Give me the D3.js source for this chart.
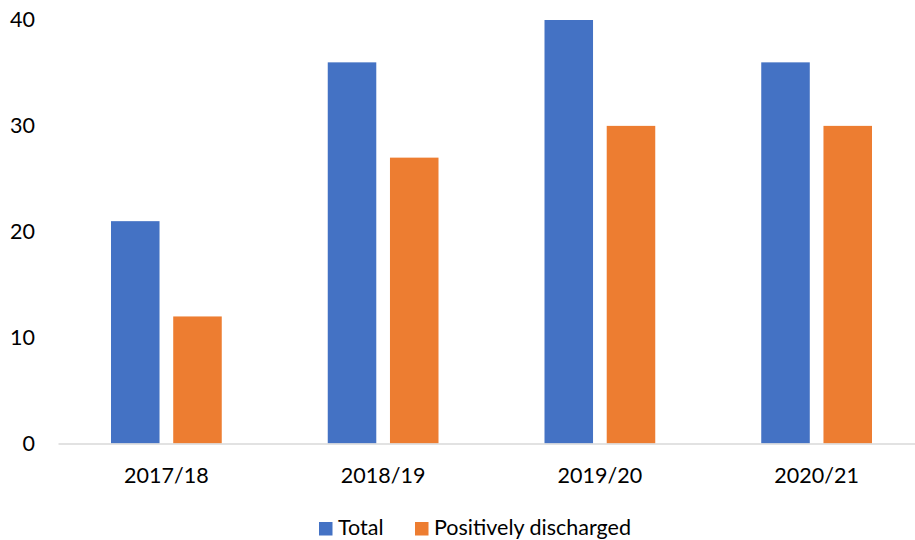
<!DOCTYPE html>
<html>
<head>
<meta charset="utf-8">
<script src="https://cdn.jsdelivr.net/npm/d3@7"></script>
<style>
  html, body { margin: 0; padding: 0; background: #fff; }
  svg { display: block; }
  text { font-family: Lato, "Open Sans", sans-serif; fill: #000; }
</style>
</head>
<body>
<svg id="chart" width="915" height="540"></svg>
<script>
const categories = ["2017/18", "2018/19", "2019/20", "2020/21"];
const seriesNames = ["Total", "Positively discharged"];
const totalValues = [21, 36, 40, 36];
const dischargedValues = [12, 27, 30, 30];
const yTicks = [0, 10, 20, 30, 40];
const colors = ["#4472C4", "#ED7D31"];

(function () {
const svg = d3.select("#chart");
const plotLeft = 58, plotRight = 925, plotTop = 20, plotBottom = 443.5;
const fs = "21.5px";

const x = d3.scaleBand().domain(categories).range([plotLeft, plotRight]).paddingInner(0).paddingOuter(0);
const xs = d3.scaleBand().domain(seriesNames).range([53, x.bandwidth() - 53]).paddingInner(0.22);
const y = d3.scaleLinear().domain([0, 40]).range([plotBottom, plotTop]);

// y tick labels
const yAxis = d3.axisLeft(y).tickValues(yTicks).tickSize(0).tickPadding(0);
const gy = svg.append("g").attr("transform", "translate(35,0)").call(yAxis);
gy.select(".domain").remove();
gy.selectAll("text").style("font-size", fs).style("font-family", "Lato, 'Open Sans', sans-serif").attr("fill", "#000");

const data = categories.map((c, i) => ({ cat: c, vals: [totalValues[i], dischargedValues[i]] }));

const groups = svg.append("g").selectAll("g").data(data).join("g")
  .attr("transform", d => `translate(${x(d.cat)},0)`);
groups.selectAll("rect").data(d => d.vals.map((v, j) => ({ v, name: seriesNames[j], j })))
  .join("rect")
  .attr("x", d => xs(d.name))
  .attr("width", xs.bandwidth())
  .attr("y", d => y(d.v))
  .attr("height", d => y(0) - y(d.v))
  .attr("fill", d => colors[d.j]);

// x axis
const xAxis = d3.axisBottom(x).tickSize(0).tickPadding(24);
const gx = svg.append("g").attr("transform", `translate(0,${plotBottom})`).call(xAxis);
gx.select(".domain").attr("stroke", "#d9d9d9").attr("stroke-width", 1.5);
gx.selectAll("text").style("font-size", fs).style("font-family", "Lato, 'Open Sans', sans-serif").attr("fill", "#000");

// legend
const legend = svg.append("g");
const legendItems = [{ name: seriesNames[0], x: 319, color: colors[0] }, { name: seriesNames[1], x: 415, color: colors[1] }];
legendItems.forEach(it => {
  legend.append("rect").attr("x", it.x).attr("y", 522).attr("width", 13.5).attr("height", 13.5).attr("fill", it.color);
  legend.append("text").attr("x", it.x + 19).attr("y", 535)
    .style("font-size", fs).text(it.name);
});
})();
</script>
</body>
</html>
